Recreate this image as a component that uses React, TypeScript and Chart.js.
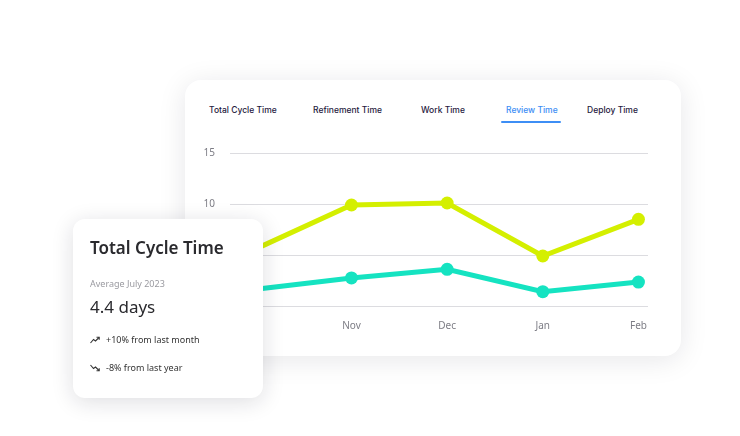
import React, { useEffect, useRef } from "react";
import { Chart, registerables } from "chart.js";

Chart.register(...registerables);

const months = ["Oct", "Nov", "Dec", "Jan", "Feb"];
const totalCycleTime = [5.6, 9.9, 10.1, 4.9, 8.5];
const reviewTime = [1.65, 2.75, 3.6, 1.4, 2.35];
const yTickValues = [0, 5, 10, 15];
const tabs = ["Total Cycle Time", "Refinement Time", "Work Time", "Review Time", "Deploy Time"];
const activeTab = "Review Time";
const cardTitle = "Total Cycle Time";
const cardSubtitle = "Average July 2023";
const cardValue = "4.4 days";
const cardTrends = ["+10% from last month", "-8% from last year"];

const tabLefts = [209, 313, 421, 506, 587];

const LIME = "#d4ef00";
const TEAL = "#15e3c1";

function TrendIcon({ up }: { up: boolean }) {
  return (
    <svg width="10" height="8" viewBox="0 0 10 8" style={{ position: "absolute", left: 0, top: 2 }}>
      {up ? (
        <polyline points="0.5,7 3.5,3.5 5.5,5 9,1.5" fill="none" stroke="#333" strokeWidth="1.1" />
      ) : (
        <polyline points="0.5,1 3.5,4.5 5.5,3 9,6.5" fill="none" stroke="#333" strokeWidth="1.1" />
      )}
      {up ? (
        <polyline points="6.5,1.2 9.2,1.2 9.2,3.8" fill="none" stroke="#333" strokeWidth="1.1" />
      ) : (
        <polyline points="6.5,6.8 9.2,6.8 9.2,4.2" fill="none" stroke="#333" strokeWidth="1.1" />
      )}
    </svg>
  );
}

export default function App() {
  const canvasRef = useRef<HTMLCanvasElement | null>(null);

  useEffect(() => {
    if (!canvasRef.current) return;
    const chart = new Chart(canvasRef.current, {
      type: "line",
      data: {
        datasets: [
          {
            label: "Total Cycle Time",
            data: totalCycleTime.map((v, i) => ({ x: i, y: v })),
            borderColor: LIME,
            backgroundColor: LIME,
            pointBackgroundColor: LIME,
            borderWidth: 5,
            pointRadius: 6.5,
            pointBorderWidth: 0,
            tension: 0,
          },
          {
            label: "Review Time",
            data: reviewTime.map((v, i) => ({ x: i, y: v })),
            borderColor: TEAL,
            backgroundColor: TEAL,
            pointBackgroundColor: TEAL,
            borderWidth: 5,
            pointRadius: 6.5,
            pointBorderWidth: 0,
            tension: 0,
          },
        ],
      },
      options: {
        animation: false,
        responsive: false,
        maintainAspectRatio: false,
        layout: { padding: { top: 23, right: 12, bottom: 0, left: 0 } },
        plugins: { legend: { display: false }, tooltip: { enabled: false } },
        scales: {
          x: {
            type: "linear",
            min: -0.27,
            max: 4.1,
            afterBuildTicks: (s: any) => {
              s.ticks = months.map((_, i) => ({ value: i })).filter((t) => t.value > 0);
            },
            afterFit: (s: any) => {
              s.height = 30;
            },
            grid: { display: false },
            border: { display: false },
            ticks: {
              padding: 6,
              color: "#7d7d85",
              font: { family: "Noto Sans", size: 10 },
              callback: (v: any) => months[Math.round(Number(v))] ?? "",
            },
          },
          y: {
            min: 0,
            max: 15,
            afterBuildTicks: (s: any) => {
              s.ticks = yTickValues.map((v) => ({ value: v }));
            },
            afterFit: (s: any) => {
              s.width = 40;
            },
            grid: { color: "#dcdce0", lineWidth: 1, drawTicks: false },
            border: { display: false },
            ticks: {
              padding: 15,
              color: "#7d7d85",
              font: { family: "Noto Sans", size: 10 },
            },
          },
        },
      },
    });
    return () => chart.destroy();
  }, []);

  return (
    <div style={{ position: "absolute", left: 0, top: 0, width: 740, height: 436, background: "#fff", overflow: "hidden" }}>
      <div
        style={{
          position: "absolute",
          left: 185,
          top: 80,
          width: 496,
          height: 276,
          background: "#fff",
          borderRadius: 16,
          boxShadow: "0 4px 28px rgba(20,20,40,0.10)",
        }}
      />
      {tabs.map((t, i) => (
        <div
          key={t}
          style={{
            position: "absolute",
            left: tabLefts[i],
            top: 105,
            fontFamily: "Inter",
            fontSize: 8.5,
            fontWeight: 450,
            whiteSpace: "nowrap",
            color: t === activeTab ? "#3d8ef5" : "#1f2040",
          }}
        >
          {t}
        </div>
      ))}
      <div style={{ position: "absolute", left: 501, top: 121, width: 60, height: 2, background: "#3d8ef5", borderRadius: 1 }} />
      <canvas
        ref={canvasRef}
        width={470}
        height={206}
        style={{ position: "absolute", left: 190, top: 130, width: 470, height: 206 }}
      />
      <div
        style={{
          position: "absolute",
          left: 73,
          top: 219,
          width: 190,
          height: 179,
          background: "#fff",
          borderRadius: 12,
          boxShadow: "0 4px 22px rgba(20,20,40,0.14)",
          fontFamily: "Noto Sans",
          color: "#2a2a2e",
        }}
      >
        <div style={{ position: "absolute", left: 17, top: 17, fontSize: 17, fontWeight: 600, whiteSpace: "nowrap" }}>{cardTitle}</div>
        <div style={{ position: "absolute", left: 17, top: 58, fontSize: 9, color: "#9a9aa0", whiteSpace: "nowrap" }}>{cardSubtitle}</div>
        <div style={{ position: "absolute", left: 17, top: 76, fontSize: 17, fontWeight: 400, whiteSpace: "nowrap" }}>{cardValue}</div>
        {cardTrends.map((t, i) => (
          <div key={t} style={{ position: "absolute", left: 17, top: 115 + i * 28, height: 12, width: 170 }}>
            <TrendIcon up={i === 0} />
            <div style={{ position: "absolute", left: 16, top: -1, fontSize: 9, whiteSpace: "nowrap", color: "#333" }}>{t}</div>
          </div>
        ))}
      </div>
    </div>
  );
}
